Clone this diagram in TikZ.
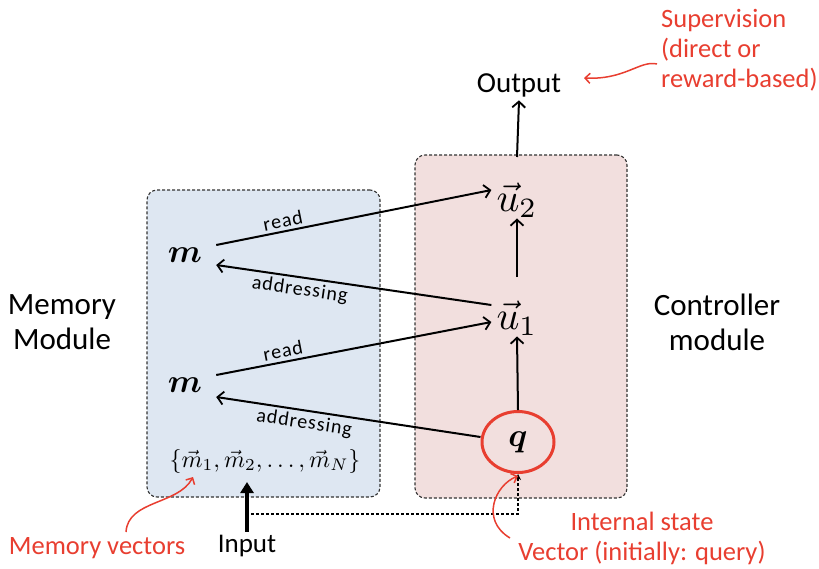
\documentclass[tikz,border=0pt]{standalone}
\usepackage{amsmath,bm,graphicx}
\usepackage[no-math]{fontspec}
\setmainfont{Carlito}
\usetikzlibrary{arrows.meta,shapes.geometric}
\definecolor{memfill}{RGB}{222,231,242}
\definecolor{ctrlfill}{RGB}{242,223,222}
\definecolor{annred}{RGB}{232,62,48}
\newcommand{\scmath}[2]{\scalebox{#1}{$#2$}}
\tikzset{
  box/.style={draw=black!80, densely dashed, line width=1.1pt, rounded corners=10pt},
  lbl/.style={font=\fontsize{31}{35}\selectfont, align=center},
  small/.style={font=\fontsize{20}{22}\selectfont\addfontfeatures{LetterSpace=5}, inner sep=3pt},
  ann/.style={font=\fontsize{26.5}{30}\selectfont, text=annred},
  barb/.tip={Straight Barb[length=6pt,width=13pt,line width=1.8pt]},
  conn/.style={-barb, line width=2pt},
  annarrow/.style={-{Straight Barb[length=5pt,width=10pt]}, draw=annred, line width=1.5pt},
  mathnode/.style={inner xsep=14pt, inner ysep=2pt}
}
\begin{document}
\begin{tikzpicture}[x=1pt,y=-1pt]
\useasboundingbox (0,0) rectangle (819,568);
% boxes
\node[box, fill=memfill, minimum width=233pt, minimum height=307pt] (mem) at (263.5,343.5) {};
\node[box, fill=ctrlfill, minimum width=212pt, minimum height=343pt] (ctrl) at (521,326.5) {};
% side labels
\node[lbl] (memlbl) at (62,322) {Memory\\Module};
\node[lbl] (ctrllbl) at (717,322) {Controller\\module};
% math nodes
\node[mathnode] (m1) at (185,255) {\scmath{3.3}{\boldsymbol{m}}};
\node[mathnode] (m2) at (185,385) {\scmath{3.3}{\boldsymbol{m}}};
\node (mv) at (265,461) {\scmath{2.4}{\{\vec{m}_1,\vec{m}_2,\ldots,\vec{m}_N\}}};
\node[inner xsep=5pt, inner ysep=1pt] (u2) at (517,200) {\scmath{4}{\vec{u}_2}};
\node[inner xsep=5pt, inner ysep=1pt] (u1) at (517,318) {\scmath{4}{\vec{u}_1}};
\node[draw=annred, line width=3pt, ellipse, minimum width=72pt, minimum height=61pt, inner sep=0pt] (q) at (518,442) {\scmath{3.3}{\boldsymbol{q}}};
% output / input
\node[font=\fontsize{29}{32}\selectfont] (out) at (519,85) {Output};
\node[font=\fontsize{27}{30}\selectfont] (in) at (247,546) {Input};
% controller arrows
\coordinate (ctop) at (517,157);
\draw[conn] (ctop) -- (out.south);
\coordinate (u1top) at (517,277);
\draw[conn] (u1top) -- (u2.south);
\draw[conn] (q.north) -- (u1.south);
% read / addressing
\draw[conn] ([yshift=10pt]m1.east) -- ([yshift=10pt]u2.west) node[small, pos=0.25, above, sloped] {read};
\draw[conn, barb-] ([yshift=-10pt]m1.east) -- ([yshift=13pt]u1.west) node[small, pos=0.31, below, sloped] {addressing};
\draw[conn] ([yshift=10pt]m2.east) -- ([yshift=-4pt]u1.west) node[small, pos=0.25, above, sloped] {read};
\draw[conn, barb-] ([yshift=-12pt]m2.east) -- ([yshift=5pt]q.west) node[small, pos=0.34, below, sloped] {addressing};
% input
\coordinate (intip) at (247,482);
\draw[-{Triangle[length=11pt,width=13pt]}, line width=3.5pt] (in.north) -- (intip);
\coordinate (dstart) at (251,514);
\draw[densely dashed, line width=1.1pt, -{Stealth[length=6pt,width=6pt]}] (dstart) -| (q.south);
% annotations
\node[ann, align=left, anchor=north west, inner sep=0pt] (sup) at (661,9) {Supervision\\(direct or\\reward-based)};
\draw[annarrow] (657,64) .. controls (640,60) and (625,80) .. (584,78);
\node[ann, inner sep=0pt] (mvlbl) at (97,548) {Memory vectors};
\draw[annarrow] (126,532) .. controls (128,500) and (178,505) .. (193,477);
\node[ann, align=center, inner sep=0pt] (isl) at (642,538) {Internal state\\Vector (initially: query)};
\draw[annarrow] (510,538) .. controls (480,520) and (495,485) .. (518,476);
\end{tikzpicture}
\end{document}
